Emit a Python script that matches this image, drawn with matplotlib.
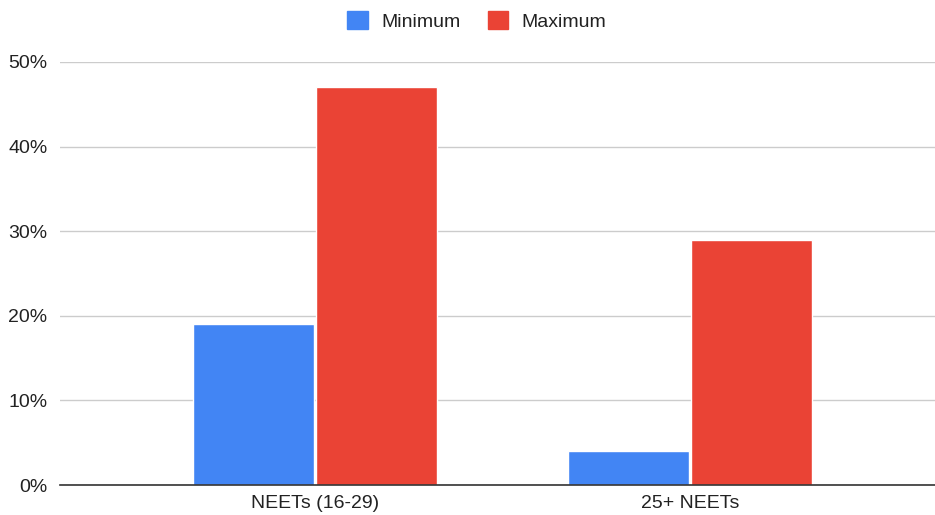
import matplotlib
matplotlib.use("Agg")
import matplotlib.pyplot as plt
from matplotlib.patches import Patch
import numpy as np

plt.rcParams['font.family'] = ['Liberation Sans', 'DejaVu Sans']

categories = ["NEETs (16-29)", "25+ NEETs"]
series_names = ["Minimum", "Maximum"]
minimum = [0.19, 0.04]
maximum = [0.47, 0.29]
colors = ["#4285F4", "#EA4335"]
y_ticks = [0.0, 0.1, 0.2, 0.3, 0.4, 0.5]
y_tick_labels = ["0%", "10%", "20%", "30%", "40%", "50%"]

fig = plt.figure(figsize=(9.35, 5.15), dpi=100)
ax = fig.add_axes([60 / 935, 1 - 485 / 515, 875 / 935, (485 - 62) / 515])

x = np.arange(len(categories))
width = 0.322
offset = 0.164
ax.bar(x - offset, minimum, width, color=colors[0], edgecolor="white", linewidth=1.0, zorder=3)
ax.bar(x + offset, maximum, width, color=colors[1], edgecolor="white", linewidth=1.0, zorder=3)

ax.set_xlim(-0.68, 1.653)
ax.set_ylim(0, 0.5)
ax.set_yticks(y_ticks)
ax.set_yticklabels(y_tick_labels)
ax.set_xticks(x)
ax.set_xticklabels(categories)

ax.grid(axis="y", color="#cccccc", linewidth=1.0, zorder=0)
for s in ["top", "right", "left"]:
    ax.spines[s].set_visible(False)
ax.spines["bottom"].set_color("#333333")
ax.spines["bottom"].set_linewidth(1.2)
ax.spines["bottom"].set_zorder(4)
ax.tick_params(axis="both", length=0, labelsize=14, colors="#222222")
ax.tick_params(axis="y", pad=9)
ax.tick_params(axis="x", pad=7)

handles = [Patch(facecolor=c, edgecolor=c) for c in colors]
fig.legend(handles, series_names, loc="center", bbox_to_anchor=(0.510, 1 - 21 / 515),
           ncol=2, frameon=False, fontsize=14, handlelength=1.05, handleheight=1.05,
           handletextpad=0.7, columnspacing=1.4, labelcolor="#222222")

fig.savefig("out.png", dpi=100, facecolor="white")
